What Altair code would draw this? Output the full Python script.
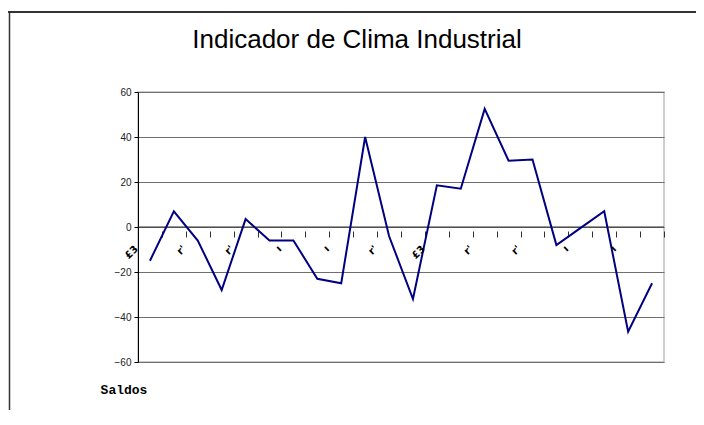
import altair as alt
import pandas as pd

# ---- data ----
values = [-15, 7, -6, -28, 3.5, -6, -6, -23, -25, 40, -4, -32,
          18.5, 17, 52.5, 29.5, 30, -8, -0.5, 7, -46.5, -25]
y_ticks = [-60, -40, -20, 0, 20, 40, 60]
# (garbled) category labels, every second boundary
cat_labels = ["£3", "r'", "r'", "ı", "ı", "r'", "£3", "r'", "r'", "ı", "ı"]
title_text = "Indicador de Clima Industrial"
unit_text = "Saldos"

n = len(values)
df = pd.DataFrame({"idx": list(range(n)), "val": values})
boundaries = [i - 0.5 for i in range(n + 1)]
lab_df = pd.DataFrame({"pos": [boundaries[2 * i] for i in range(len(cat_labels))],
                       "lab": cat_labels})
one = pd.DataFrame({"a": [0]})

xscale = alt.Scale(domain=[-0.5, n - 0.5], nice=False, zero=False)
yscale = alt.Scale(domain=[-60, 60], nice=False)

xaxis = alt.Axis(values=boundaries, labels=False, domain=False, grid=False,
                 ticks=True, tickSize=6, tickColor="#303030", offset=-131,
                 title=None)
yaxis = alt.Axis(values=y_ticks, grid=True, gridColor="#6e6e6e", gridWidth=1,
                 domainColor="#000000", tickColor="#000000", tickSize=4,
                 labelFontSize=10, labelFont="Liberation Sans",
                 labelColor="#222222", labelPadding=3, title=None)

line = alt.Chart(df).mark_line(color="#000080", strokeWidth=2).encode(
    x=alt.X("idx:Q", scale=xscale, axis=xaxis),
    y=alt.Y("val:Q", scale=yscale, axis=yaxis),
)

zero_rule = alt.Chart(pd.DataFrame({"z": [0]})).mark_rule(
    color="#303030", strokeWidth=1).encode(y=alt.Y("z:Q", scale=yscale, axis=yaxis))

labels = alt.Chart(lab_df).mark_text(
    angle=315, align="right", baseline="middle", font="DejaVu Sans",
    fontWeight="bold", fontSize=10, color="#000000", dx=-2
).encode(x=alt.X("pos:Q", scale=xscale, axis=xaxis), y=alt.value(154), text="lab:N")

title = alt.Chart(one).mark_text(
    font="Liberation Sans", fontSize=26, color="#000000", baseline="middle",
    align="center").encode(x=alt.value(219), y=alt.value(-52),
                           text=alt.value(title_text))

unit = alt.Chart(one).mark_text(
    font="Liberation Mono", fontSize=13, fontWeight="bold", color="#000000",
    baseline="middle", align="center").encode(x=alt.value(-14), y=alt.value(298),
                                              text=alt.value(unit_text))

frame_top = alt.Chart(one).mark_rule(color="#333333", strokeWidth=2).encode(
    x=alt.value(-131), x2=alt.value(560), y=alt.value(-80))
frame_left = alt.Chart(one).mark_rule(color="#333333", strokeWidth=1.5).encode(
    x=alt.value(-128.5), y=alt.value(-81), y2=alt.value(320))

chart = alt.layer(frame_top, frame_left, zero_rule, line, labels, title, unit).properties(
    width=526, height=270,
    padding={"left": 130, "top": 84, "right": 32, "bottom": 48},
    autosize=alt.AutoSizeParams(type="none"),
).configure_view(stroke="#c0c0c0", strokeWidth=1.5)

chart.save("out.html", embed_options={"renderer": "svg", "actions": False})
